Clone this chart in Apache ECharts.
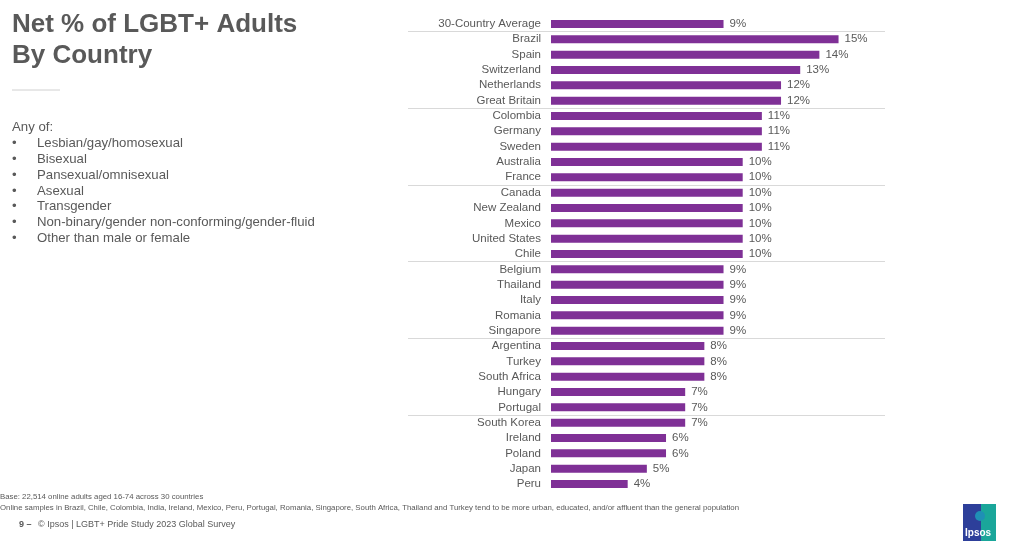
<!DOCTYPE html>
<html><head><meta charset="utf-8">
<script src="https://cdn.jsdelivr.net/npm/echarts@6/dist/echarts.min.js"></script>
<style>html,body{margin:0;padding:0;background:#fff}#c{width:1024px;height:549px}</style>
</head><body><div id="c"></div>
<script>
const categories = ["30-Country Average","Brazil","Spain","Switzerland","Netherlands","Great Britain","Colombia","Germany","Sweden","Australia","France","Canada","New Zealand","Mexico","United States","Chile","Belgium","Thailand","Italy","Romania","Singapore","Argentina","Turkey","South Africa","Hungary","Portugal","South Korea","Ireland","Poland","Japan","Peru"];
const values = [9,15,14,13,12,12,11,11,11,10,10,10,10,10,10,10,9,9,9,9,9,8,8,8,7,7,7,6,6,5,4];
const bulletItems = ["Lesbian/gay/homosexual","Bisexual","Pansexual/omnisexual","Asexual","Transgender","Non-binary/gender non-conforming/gender-fluid","Other than male or female"];

const font = "'Liberation Sans', Arial, sans-serif";
const narrow = "'Liberation Sans Narrow', 'Arial Narrow', 'Liberation Sans', sans-serif";
const grey = '#595959';
const chart = echarts.init(document.getElementById('c'));

const gridLeft = 408, gridRight = 139, zeroX = 551, pxPerUnit = 19.17;
const xMin = -(zeroX - gridLeft) / pxPerUnit;
const xMax = (1024 - gridRight - zeroX) / pxPerUnit;

const graphics = [
  {type:'text', left:12, top:9, style:{text:'Net % of LGBT+ Adults\nBy Country', font:'bold 26px '+font, fill:grey, lineHeight:31}},
  {type:'line', shape:{x1:12,y1:90,x2:60,y2:90}, style:{stroke:'#d0d0d0', lineWidth:1}},
  {type:'text', left:12, top:121, style:{text:'Any of:', font:'13.2px '+font, fill:grey}}
];
bulletItems.forEach((t,i)=>{
  graphics.push({type:'text', left:12, top:137+i*15.8, style:{text:'•', font:'13.2px '+font, fill:grey}});
  graphics.push({type:'text', left:37, top:137+i*15.8, style:{text:t, font:'13.2px '+font, fill:grey}});
});
graphics.push(
  {type:'text', left:0, top:493, style:{text:'Base: 22,514 online adults aged 16-74 across 30 countries', font:'7.8px '+narrow, fill:grey}},
  {type:'text', left:0, top:504, style:{text:'Online samples in Brazil, Chile, Colombia, India, Ireland, Mexico, Peru, Portugal, Romania, Singapore, South Africa, Thailand and Turkey tend to be more urban, educated, and/or affluent than the general population', font:'7.8px '+narrow, fill:grey}},
  {type:'text', left:19, top:520, style:{text:'9 –', font:'bold 9px '+font, fill:grey}},
  {type:'text', left:38, top:520, style:{text:'© Ipsos | LGBT+ Pride Study 2023 Global Survey', font:'9px '+font, fill:grey}},
  {type:'rect', shape:{x:963,y:504,width:33,height:37}, style:{fill:new echarts.graphic.LinearGradient(0,0,1,0,[{offset:0,color:'#2d3f9a'},{offset:0.55,color:'#2d3f9a'},{offset:0.56,color:'#1aa69a'},{offset:1,color:'#1aa69a'}])}},
  {type:'circle', shape:{cx:980,cy:516,r:5}, style:{fill:'#1f8fb5'}},
  {type:'text', left:965, top:528, style:{text:'Ipsos', font:'bold 10px '+font, fill:'#fff'}}
);

chart.setOption({
  animation:false,
  grid:{left:gridLeft, right:gridRight, top:16.3, bottom:549-491.7, containLabel:false},
  xAxis:{type:'value', min:xMin, max:xMax, show:false},
  yAxis:{type:'category', data:categories, inverse:true, offset:-(zeroX-gridLeft),
    axisLine:{show:false}, axisTick:{show:false},
    axisLabel:{color:grey, fontSize:11.5, fontFamily:font, margin:10, interval:0},
    splitLine:{show:true, showMinLine:true, showMaxLine:false, interval:(i)=> i%5===1 && i<categories.length, lineStyle:{color:'#d9d9d9', width:1}}
  },
  series:[{type:'bar', data:values, barWidth:8, itemStyle:{color:'#7f3096'},
    label:{show:true, position:'right', distance:6, formatter:'{c}%', color:grey, fontSize:11.5, fontFamily:font}}],
  graphic:graphics
});
</script></body></html>
